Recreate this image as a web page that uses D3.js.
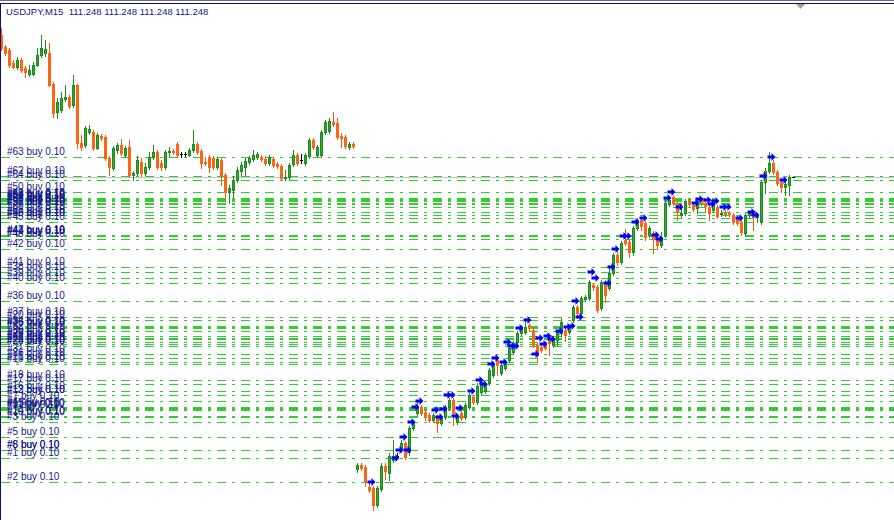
<!DOCTYPE html>
<html>
<head>
<meta charset="utf-8">
<script src="https://cdn.jsdelivr.net/npm/d3@7"></script>
<style>
  html, body { margin: 0; padding: 0; background: #fff; }
  svg { display: block; }
</style>
</head>
<body>
<svg id="chart" width="894" height="520"></svg>
<script>
  var W = 894, H = 520;

  var symbol = "USDJPY,M15";
  var barOHLC = [111.248, 111.248, 111.248, 111.248];
  var bidPrice = 111.248;

  // candles, one per 15 min bar, left to right
  var openP = [
    111.390,111.378,111.375,111.362,111.358,111.365,111.357,111.351,111.351,111.360,
    111.370,111.372,111.372,111.341,111.313,111.315,111.326,111.328,111.320,111.340,
    111.282,111.280,111.293,111.293,111.277,111.289,111.288,111.267,111.257,111.275,
    111.280,111.270,111.278,111.250,111.252,111.263,111.252,111.258,111.268,111.273,
    111.262,111.258,111.273,111.274,111.281,111.271,111.271,111.270,111.275,111.281,
    111.274,111.263,111.268,111.267,111.258,111.265,111.250,111.233,111.235,111.245,
    111.254,111.258,111.263,111.266,111.268,111.268,111.266,111.262,111.266,111.261,
    111.259,111.247,111.248,111.261,111.270,111.265,111.262,111.269,111.285,111.270,
    111.270,111.293,111.294,111.303,111.302,111.289,111.288,111.278,111.281,
    110.956,110.960,110.958,110.938,110.937,110.920,110.936,110.959,110.952,110.965,
    110.969,110.975,110.982,110.973,110.997,111.012,111.018,111.013,111.010,111.005,
    111.008,111.002,111.008,111.018,111.025,111.003,111.012,111.008,111.018,111.028,
    111.023,111.033,111.034,111.042,111.050,111.065,111.052,111.057,111.065,111.073,
    111.083,111.092,111.093,111.100,111.095,111.080,111.078,111.082,111.087,111.080,
    111.085,111.092,111.095,111.093,111.105,111.118,111.112,111.126,111.127,111.140,
    111.138,111.117,111.143,111.137,111.152,111.170,111.163,111.185,111.183,111.173,
    111.197,111.205,111.202,111.190,111.192,111.187,111.180,111.190,111.221,111.228,
    111.222,111.210,111.212,111.224,111.220,111.217,111.225,111.222,111.218,111.215,
    111.218,111.211,111.213,111.212,111.210,111.207,111.203,111.192,111.210,111.212,
    111.208,111.203,111.243,111.254,111.262,111.253,111.243,111.238,111.240,111.248
  ];
  var highP = [
    111.397,111.380,111.377,111.365,111.368,111.367,111.359,111.360,111.363,111.377,
    111.390,111.385,111.382,111.343,111.327,111.333,111.340,111.330,111.350,111.341,
    111.290,111.299,111.300,111.295,111.292,111.291,111.290,111.269,111.279,111.282,
    111.286,111.279,111.285,111.254,111.269,111.267,111.262,111.273,111.280,111.275,
    111.265,111.275,111.278,111.276,111.283,111.273,111.273,111.277,111.295,111.283,
    111.276,111.268,111.270,111.269,111.268,111.267,111.252,111.240,111.249,111.258,
    111.263,111.267,111.269,111.275,111.273,111.270,111.269,111.270,111.268,111.263,
    111.261,111.255,111.262,111.275,111.272,111.271,111.272,111.287,111.287,111.280,
    111.295,111.305,111.307,111.313,111.307,111.292,111.290,111.283,111.283,
    110.962,110.962,110.960,110.942,110.939,110.939,110.962,110.962,110.972,110.985,
    110.972,110.985,110.984,110.999,111.005,111.025,111.020,111.015,111.012,111.012,
    111.010,111.009,111.020,111.027,111.027,111.011,111.014,111.022,111.032,111.030,
    111.042,111.045,111.042,111.057,111.063,111.067,111.062,111.065,111.079,111.084,
    111.094,111.100,111.107,111.102,111.097,111.082,111.080,111.084,111.089,111.089,
    111.095,111.107,111.097,111.100,111.120,111.120,111.129,111.130,111.145,111.142,
    111.140,111.145,111.145,111.160,111.172,111.175,111.184,111.196,111.185,111.199,
    111.207,111.207,111.204,111.199,111.194,111.189,111.193,111.225,111.228,111.230,
    111.224,111.220,111.226,111.226,111.222,111.222,111.227,111.224,111.220,111.225,
    111.220,111.215,111.215,111.214,111.212,111.209,111.205,111.212,111.214,111.214,
    111.212,111.245,111.257,111.273,111.265,111.255,111.245,111.245,111.250,111.248
  ];
  var lowP = [
    111.375,111.370,111.358,111.357,111.356,111.353,111.348,111.349,111.350,111.359,
    111.368,111.369,111.339,111.308,111.307,111.313,111.324,111.317,111.318,111.277,
    111.275,111.278,111.291,111.275,111.276,111.285,111.265,111.250,111.255,111.272,
    111.270,111.268,111.248,111.245,111.250,111.249,111.250,111.256,111.266,111.256,
    111.255,111.256,111.268,111.271,111.268,111.268,111.269,111.269,111.273,111.271,
    111.257,111.260,111.253,111.256,111.256,111.240,111.227,111.222,111.228,111.243,
    111.249,111.250,111.261,111.264,111.266,111.264,111.260,111.260,111.258,111.257,
    111.245,111.245,111.246,111.259,111.260,111.262,111.260,111.267,111.276,111.268,
    111.269,111.291,111.292,111.299,111.286,111.278,111.277,111.276,111.277,
    110.953,110.955,110.939,110.933,110.915,110.918,110.934,110.946,110.945,110.963,
    110.967,110.973,110.966,110.970,110.995,111.010,111.010,111.005,111.003,111.003,
    110.993,111.000,111.006,111.016,111.000,111.001,111.005,111.006,111.016,111.021,
    111.021,111.031,111.032,111.040,111.048,111.050,111.050,111.055,111.063,111.071,
    111.081,111.090,111.091,111.095,111.078,111.063,111.073,111.075,111.070,111.078,
    111.080,111.089,111.084,111.091,111.103,111.107,111.110,111.124,111.125,111.135,
    111.113,111.115,111.123,111.135,111.150,111.160,111.161,111.180,111.168,111.170,
    111.195,111.195,111.185,111.188,111.172,111.177,111.178,111.188,111.219,111.220,
    111.205,111.208,111.210,111.219,111.214,111.212,111.220,111.213,111.205,111.213,
    111.207,111.209,111.209,111.209,111.201,111.200,111.190,111.190,111.208,111.195,
    111.203,111.201,111.232,111.252,111.251,111.240,111.233,111.230,111.230,111.248
  ];
  var closeP = [
    111.377,111.372,111.360,111.358,111.365,111.355,111.353,111.355,111.360,111.370,
    111.377,111.376,111.340,111.312,111.323,111.327,111.328,111.319,111.340,111.282,
    111.278,111.297,111.296,111.277,111.290,111.287,111.267,111.258,111.277,111.280,
    111.272,111.277,111.250,111.252,111.265,111.252,111.258,111.268,111.273,111.258,
    111.258,111.273,111.274,111.273,111.270,111.271,111.271,111.275,111.281,111.273,
    111.262,111.262,111.258,111.258,111.266,111.250,111.233,111.237,111.245,111.255,
    111.260,111.264,111.267,111.270,111.271,111.266,111.262,111.268,111.260,111.259,
    111.247,111.248,111.260,111.270,111.262,111.265,111.270,111.285,111.278,111.278,
    111.293,111.303,111.304,111.301,111.288,111.287,111.279,111.281,111.279,
    110.960,110.957,110.944,110.935,110.920,110.937,110.959,110.954,110.969,110.969,
    110.969,110.982,110.968,110.997,111.003,111.018,111.012,111.009,111.005,111.010,
    111.002,111.007,111.018,111.025,111.012,111.009,111.007,111.020,111.030,111.023,
    111.039,111.043,111.040,111.055,111.061,111.060,111.060,111.063,111.077,111.082,
    111.092,111.098,111.098,111.097,111.080,111.070,111.075,111.077,111.082,111.087,
    111.093,111.103,111.090,111.098,111.118,111.112,111.127,111.128,111.143,111.138,
    111.115,111.143,111.130,111.152,111.170,111.163,111.182,111.182,111.173,111.197,
    111.205,111.199,111.188,111.197,111.186,111.180,111.188,111.222,111.225,111.222,
    111.213,111.212,111.224,111.221,111.216,111.220,111.222,111.219,111.212,111.223,
    111.209,111.212,111.211,111.211,111.203,111.202,111.193,111.210,111.212,111.208,
    111.210,111.243,111.254,111.262,111.253,111.242,111.238,111.241,111.248,111.248
  ];

  // open buy orders: ticket number, bar index of entry, open price
  var orderNums = [2,1,6,5,8,3,4,7,9,10,11,12,13,14,15,16,18,17,19,26,21,22,23,24,25,20,31,28,29,30,27,32,33,34,36,37,38,39,40,41,42,43,44,45,46,47,48,49,50,51,52,53,54,55,56,57,58,59,60,61,62,63,64];
  var orderBars = [92,98,99,100,101,102,103,104,108,109,110,111,112,113,114,117,119,120,122,123,125,126,127,128,129,131,133,134,135,136,137,139,141,142,143,144,147,148,151,152,153,155,156,158,160,163,164,166,167,169,173,174,176,177,178,180,181,184,187,188,190,192,195];
  var orderPrices = [
    110.943,110.967,110.975,110.988,110.975,111.003,111.018,111.024,111.015,111.008,
    111.016,111.030,111.030,111.009,111.017,111.034,111.045,111.041,111.061,111.067,
    111.063,111.083,111.079,111.079,111.097,111.105,111.071,111.087,111.081,111.089,
    111.086,111.094,111.098,111.099,111.124,111.108,111.153,111.147,111.142,111.158,
    111.176,111.189,111.189,111.203,111.207,111.190,111.186,111.227,111.233,111.218,
    111.222,111.226,111.225,111.221,111.224,111.218,111.218,111.207,111.213,111.210,
    111.249,111.268,111.245
  ];
  var orderLots = "0.10";

  var BULL = "#2ea82e", BULL_EDGE = "#1f8a1f";
  var BEAR = "#ff6414", BEAR_EDGE = "#ee5a0a";
  var ORDER_LINE = "#32cd32";
  var TEXT_COLOR = "#161690";

  var svg = d3.select("#chart");
  svg.append("rect").attr("width", W).attr("height", H).attr("fill", "#fff");

  var x = d3.scaleLinear().domain([0, openP.length - 1]).range([1.5, 1.5 + 4 * (openP.length - 1)]);
  var y = d3.scaleLinear().domain([110.905, 111.425]).range([H, 0]);

  var candles = openP.map(function (o, i) {
    return { i: i, o: o, h: highP[i], l: lowP[i], c: closeP[i] };
  });

  // order lines (dash-dot)
  var orders = orderNums.map(function (n, k) {
    return { num: n, bar: orderBars[k], price: orderPrices[k] };
  });

  svg.append("g").attr("shape-rendering", "crispEdges")
    .selectAll("line").data(orders).enter().append("line")
    .attr("x1", 1).attr("x2", W)
    .attr("y1", function (d) { return Math.round(y(d.price)) + 0.5; })
    .attr("y2", function (d) { return Math.round(y(d.price)) + 0.5; })
    .attr("stroke", ORDER_LINE)
    .attr("stroke-dasharray", "9,6,3,6");

  // bid line
  svg.append("line")
    .attr("x1", 1).attr("x2", W)
    .attr("y1", Math.round(y(bidPrice)) + 0.5).attr("y2", Math.round(y(bidPrice)) + 0.5)
    .attr("stroke", "#c8c8c8")
    .attr("shape-rendering", "crispEdges");

  function colorOf(d, edge) {
    if (d.c > d.o) return edge ? BULL_EDGE : BULL;
    if (d.c < d.o) return edge ? BEAR_EDGE : BEAR;
    return "#000";
  }

  var cg = svg.append("g").attr("shape-rendering", "crispEdges");

  cg.selectAll("line.wick").data(candles).enter().append("line")
    .attr("class", "wick")
    .attr("x1", function (d) { return x(d.i); })
    .attr("x2", function (d) { return x(d.i); })
    .attr("y1", function (d) { return Math.round(y(d.h)); })
    .attr("y2", function (d) { return Math.round(y(d.l)) + 1; })
    .attr("stroke", function (d) { return colorOf(d, true); });

  cg.selectAll("rect.body").data(candles).enter().append("rect")
    .attr("class", "body")
    .attr("x", function (d) { return x(d.i) - 1.5; })
    .attr("width", 3)
    .attr("y", function (d) { return Math.round(y(Math.max(d.o, d.c))); })
    .attr("height", function (d) {
      return Math.max(1, Math.round(y(Math.min(d.o, d.c))) - Math.round(y(Math.max(d.o, d.c))) + 1);
    })
    .attr("fill", function (d) { return colorOf(d, false); });

  // dark edge on bull bodies
  cg.selectAll("rect.edge").data(candles.filter(function (d) { return d.c > d.o; })).enter().append("rect")
    .attr("class", "edge")
    .attr("x", function (d) { return x(d.i) - 1; })
    .attr("width", 2)
    .attr("y", function (d) { return Math.round(y(d.c)) + 0.5; })
    .attr("height", function (d) { return Math.max(0, Math.round(y(d.o)) - Math.round(y(d.c))); })
    .attr("fill", "none")
    .attr("stroke", BULL_EDGE);

  // buy arrows
  svg.append("g").selectAll("path").data(orders).enter().append("path")
    .attr("d", function (d) {
      var cx = x(d.bar) + 2, cy = y(d.price);
      return "M" + (cx - 4) + "," + (cy - 1.5) + "H" + cx + "V" + (cy - 4) +
        "L" + (cx + 4) + "," + cy + "L" + cx + "," + (cy + 4) + "V" + (cy + 1.5) +
        "H" + (cx - 4) + "Z";
    })
    .attr("fill", "#0000ff");

  // order labels
  svg.append("g").selectAll("text").data(orders).enter().append("text")
    .attr("x", 7)
    .attr("y", function (d) { return Math.round(y(d.price)) - 2; })
    .attr("font-family", "'Liberation Sans', Arial, sans-serif")
    .attr("font-size", "10px")
    .attr("fill", TEXT_COLOR)
    .text(function (d) { return "#" + d.num + " buy " + orderLots; });

  // frame
  svg.append("line").attr("x1", 0).attr("x2", W).attr("y1", 0.5).attr("y2", 0.5)
    .attr("stroke", "#6a6a8a");
  svg.append("line").attr("x1", 0).attr("x2", W).attr("y1", 3.5).attr("y2", 3.5)
    .attr("stroke", "#10106a");
  svg.append("line").attr("x1", 0.5).attr("x2", 0.5).attr("y1", 3).attr("y2", H)
    .attr("stroke", "#10106a");

  // chart shift marker
  svg.append("path").attr("d", "M796,4L805,4L800.5,9Z").attr("fill", "#a0a0a0");

  // title
  svg.append("text")
    .attr("x", 6).attr("y", 15)
    .attr("font-family", "'Liberation Sans', Arial, sans-serif")
    .attr("font-size", "9.5px")
    .attr("fill", TEXT_COLOR)
    .attr("xml:space", "preserve")
    .text(symbol + "  " + barOHLC.map(function (v) { return v.toFixed(3); }).join(" "));
</script>
</body>
</html>
